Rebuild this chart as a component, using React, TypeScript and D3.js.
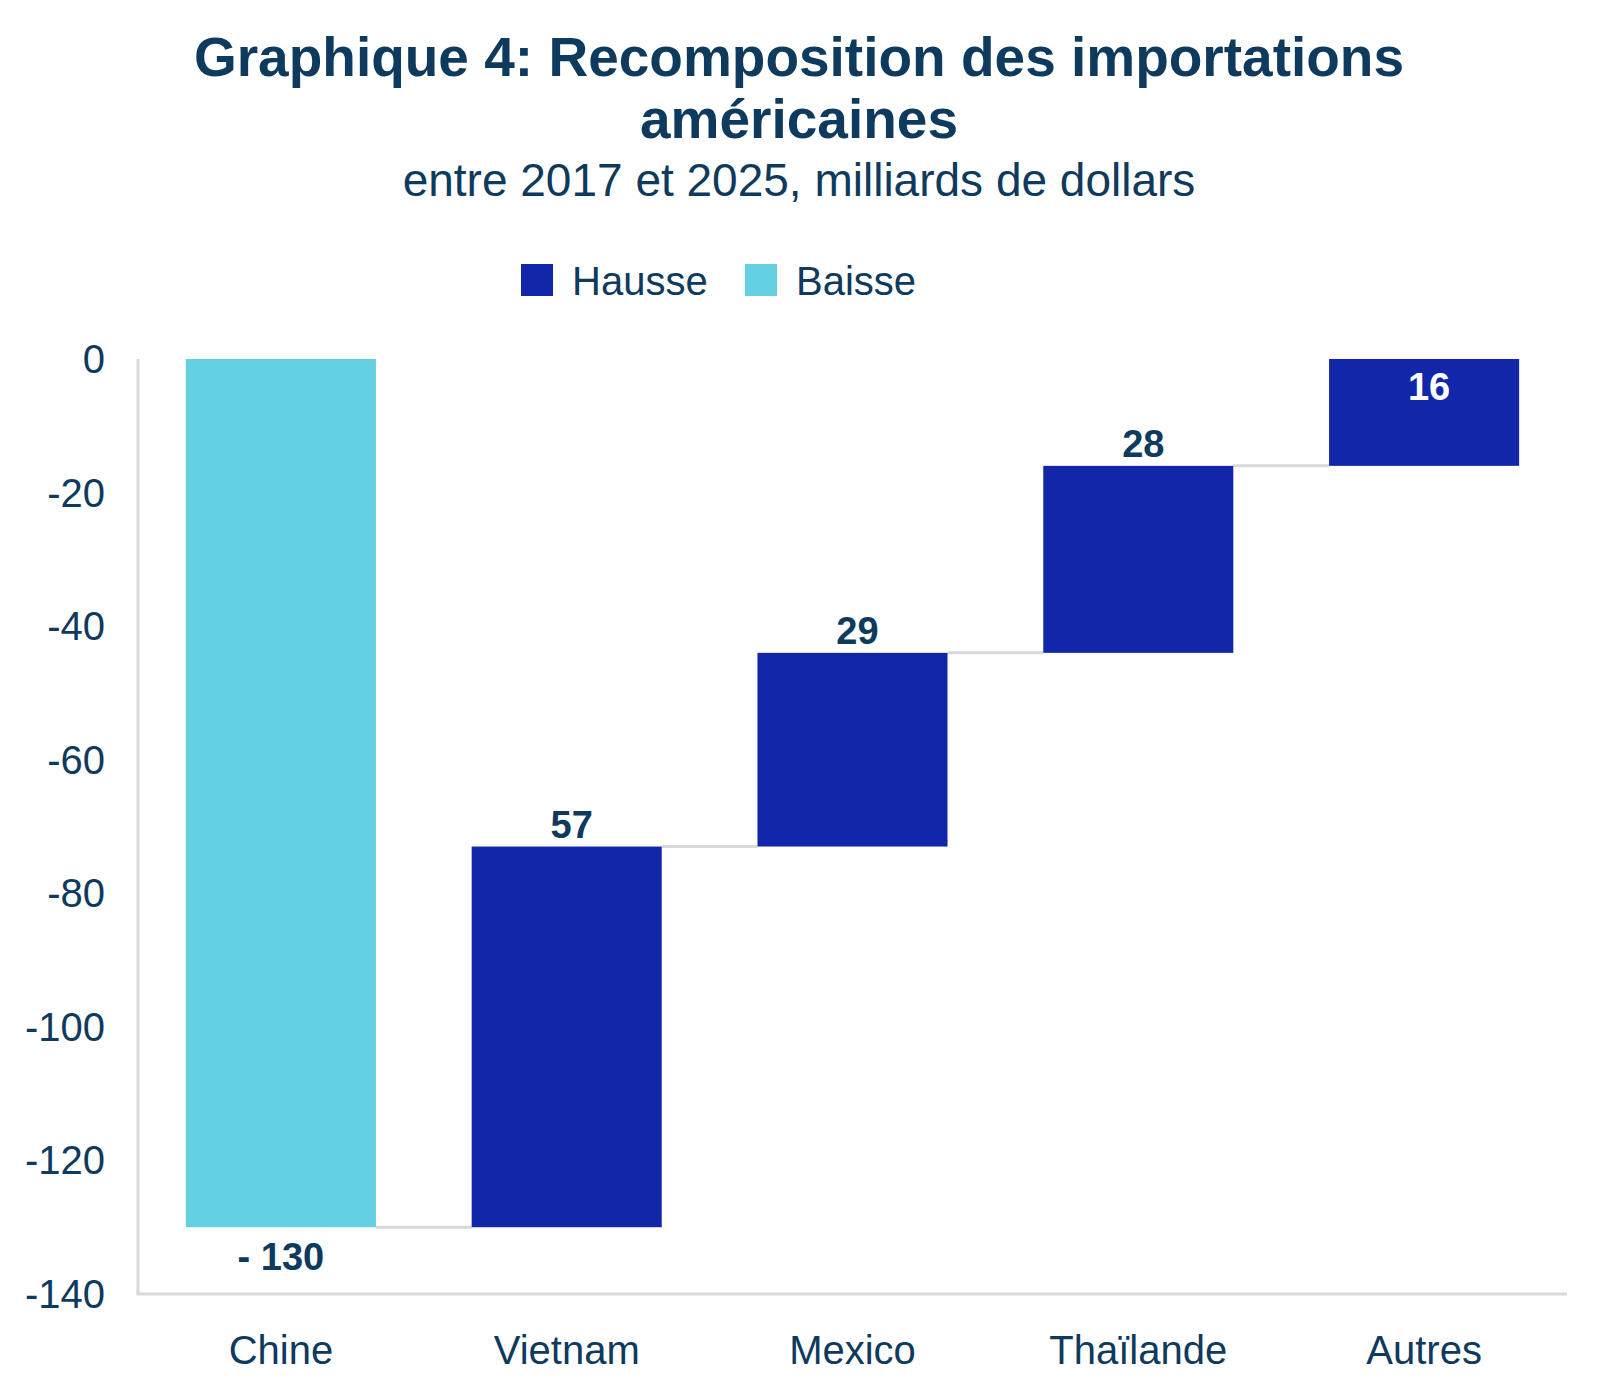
import React from "react";
import * as d3 from "d3";

// Variation of US imports by origin, 2017 → 2025 (billions of dollars)
const categories = ["Chine", "Vietnam", "Mexico", "Thaïlande", "Autres"];
const changes = [-130, 57, 29, 28, 16];
const valueLabels = ["- 130", "57", "29", "28", "16"];
const yTicks = [0, -20, -40, -60, -80, -100, -120, -140];
const legendItems = ["Hausse", "Baisse"];

const W = 1600;
const H = 1397;
const FONT = "Liberation Sans, Arial, Helvetica, sans-serif";
const TEXT = "#0e3a5e";
const UP = "#1226a9";
const DOWN = "#62d0e0";
const GRID = "#d9d9d9";

const margin = { left: 138, right: 33, top: 359, bottom: 103 };

export default function App() {
  const x = d3
    .scaleBand<string>()
    .domain(categories)
    .range([margin.left, W - margin.right])
    .paddingInner(0.335)
    .paddingOuter(0.1675);
  const y = d3
    .scaleLinear()
    .domain([-140, 0])
    .range([H - margin.bottom, margin.top]);

  // running totals for the waterfall
  let running = 0;
  const steps = categories.map((c, i) => {
    const start = running;
    running += changes[i];
    return { c, start, end: running, v: changes[i], label: valueLabels[i] };
  });

  const bw = x.bandwidth();

  return (
    <svg
      width={W}
      height={H}
      style={{ position: "absolute", left: 0, top: 0, background: "#fff" }}
      fontFamily={FONT}
    >
      <rect width={W} height={H} fill="#fff" />
      {/* Title */}
      <text x={799} y={76} textAnchor="middle" fontSize={55} fontWeight="bold" fill={TEXT}>
        Graphique 4: Recomposition des importations
      </text>
      <text x={799} y={138} textAnchor="middle" fontSize={55} fontWeight="bold" fill={TEXT}>
        américaines
      </text>
      <text x={799} y={196} textAnchor="middle" fontSize={46} fill={TEXT}>
        entre 2017 et 2025, milliards de dollars
      </text>

      {/* Legend */}
      {legendItems.map((name, i) => {
        const lx = i === 0 ? 521 : 745;
        return (
          <g key={name}>
            <rect x={lx} y={264} width={32} height={32} fill={i === 0 ? UP : DOWN} />
            <text x={lx + 51} y={295} fontSize={40} fill={TEXT}>
              {name}
            </text>
          </g>
        );
      })}

      {/* Axes */}
      <line x1={margin.left} x2={margin.left} y1={y(0)} y2={y(-140)} stroke={GRID} strokeWidth={3} />
      <line x1={margin.left - 1.5} x2={W - margin.right} y1={y(-140)} y2={y(-140)} stroke={GRID} strokeWidth={3} />

      {yTicks.map((t) => (
        <text key={t} x={105} y={y(t) + 14} textAnchor="end" fontSize={40} fill={TEXT}>
          {t}
        </text>
      ))}

      {categories.map((c) => (
        <text key={c} x={(x(c) ?? 0) + bw / 2} y={1364} textAnchor="middle" fontSize={40} fill={TEXT}>
          {c}
        </text>
      ))}

      {/* Connectors between consecutive bars */}
      {steps.slice(0, -1).map((s, i) => (
        <line
          key={"c" + i}
          x1={(x(s.c) ?? 0) + bw}
          x2={x(categories[i + 1]) ?? 0}
          y1={y(s.end)}
          y2={y(s.end)}
          stroke={GRID}
          strokeWidth={3}
        />
      ))}

      {/* Bars */}
      {steps.map((s) => {
        const top = y(Math.max(s.start, s.end));
        const bottom = y(Math.min(s.start, s.end));
        return (
          <rect
            key={s.c}
            x={x(s.c)}
            y={top}
            width={bw}
            height={bottom - top}
            fill={s.v >= 0 ? UP : DOWN}
          />
        );
      })}

      {/* Value labels */}
      {steps.map((s) => {
        let cx = (x(s.c) ?? 0) + bw / 2;
        let ly: number;
        let fill = TEXT;
        if (s.v < 0) {
          ly = y(s.end) + 43;
        } else {
          cx += 5;
          if (s.end >= 0) {
            ly = y(s.end) + 41;
            fill = "#fff";
          } else {
            ly = y(s.end) - 9;
          }
        }
        return (
          <text key={"l" + s.c} x={cx} y={ly} textAnchor="middle" fontSize={38} fontWeight="bold" fill={fill}>
            {s.label}
          </text>
        );
      })}
    </svg>
  );
}
